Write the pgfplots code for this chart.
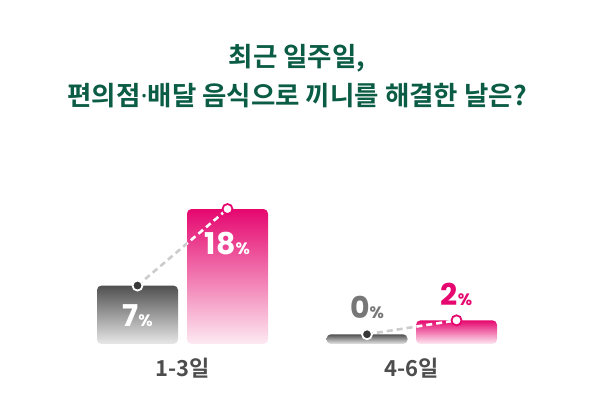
\documentclass[border=0pt]{standalone}
\usepackage{fontspec}
\setmainfont{Noto Sans CJK KR}[BoldFont={* Bold}]
\newfontfamily\latinfont{Noto Sans}
\newfontfamily\numfont{Poppins}
\usepackage{pgfplots}
\pgfplotsset{compat=1.18}
\definecolor{titlegreen}{HTML}{0B5C45}
\definecolor{pinkbar}{HTML}{E5076F}
\definecolor{pinklight}{HTML}{FDEAF2}
\definecolor{graybar}{HTML}{505050}
\definecolor{graylight}{HTML}{E8E8E8}
\definecolor{linegray}{HTML}{CCCCCC}
\definecolor{labelgray}{HTML}{4D4D4D}
\definecolor{zerogray}{HTML}{777777}

% 1 px of the reference = 1pt here; bars of 0 still get a small stub
\pgfplotsset{
  base/.style={
    scale only axis, height=160pt,
    ymin=-1.4, ymax=21.6,
    y coord trafo/.code={\pgfmathparse{##1+1.4}},
    y coord inv trafo/.code={\pgfmathparse{##1-1.4}},
  },
  link/.style={line width=2.6pt, dash pattern=on 6pt off 4pt},
  graybar/.style={draw=none, rounded corners=4.5pt, top color=graybar, bottom color=graylight},
  pinkbar/.style={draw=none, rounded corners=4.5pt, top color=pinkbar, bottom color=pinklight},
}

\begin{document}
\begin{tikzpicture}
\path[use as bounding box] (0,0) rectangle (594pt,420pt);

\node[font=\bfseries\fontsize{26.5}{39}\selectfont, text=titlegreen, align=center, inner sep=0pt]
  at (297pt,344pt) {최근 일주일,\\편의점{\latinfont\bfseries ·}배달 음식으로 끼니를 해결한 날은?};

% bars and grey links
\begin{axis}[base, at={(0pt,76pt)}, anchor=south west, width=594pt,
    xmin=0, xmax=594, hide axis, clip=false,
    ybar, bar width=81, bar shift=0pt]
  \addplot[sharp plot, link, draw=linegray] coordinates {(137.5,7) (227.5,18)};
  \addplot[sharp plot, link, draw=linegray] coordinates {(367,0) (456.5,2)};
  \addplot[graybar] coordinates {(137.5,7)};
  \addplot[graybar] coordinates {(367,0)};
  \addplot[pinkbar] coordinates {(227.5,18)};
  \addplot[pinkbar] coordinates {(456.5,2)};
\end{axis}

% white part of the links, clipped to the pink bars
\begin{axis}[base, at={(187pt,76pt)}, anchor=south west, width=81pt,
    xmin=187, xmax=268, hide axis]
  \addplot[white, link, mark=none] coordinates {(137.5,7) (227.5,18)};
\end{axis}
\begin{axis}[base, at={(416pt,76pt)}, anchor=south west, width=81pt,
    xmin=416, xmax=497, hide axis]
  \addplot[white, link, mark=none] coordinates {(367,0) (456.5,2)};
\end{axis}

% markers, values and category names
\begin{axis}[base, at={(0pt,76pt)}, anchor=south west, width=594pt,
    xmin=0, xmax=594, clip=false,
    axis x line*=bottom, axis y line=none, axis line style={draw=none},
    major tick length=0pt, ytick=\empty,
    xtick={182.5,412}, xticklabels={1-3일,4-6일},
    xticklabel style={font=\bfseries\fontsize{22}{22}\selectfont, text=labelgray, yshift=-11pt},
    point meta=rawy,
    /pgf/number format/assume math mode=true,
    nodes near coords={\pgfmathprintnumber{\pgfplotspointmeta}{\fontsize{16.5}{16.5}\selectfont\%}},
    nodes near coords style={font=\numfont\bfseries\fontsize{30}{30}\selectfont, anchor=center, inner sep=0pt},
  ]
  \addplot[only marks, mark=*, mark size=5pt,
      mark options={fill=black!78, draw=white, line width=1.8pt},
      coordinate style/.condition={\coordindex==0}{text=white, yshift=-30pt},
      coordinate style/.condition={\coordindex==1}{text=zerogray, yshift=27pt, font=\numfont\bfseries\fontsize{27}{27}\selectfont},
    ] coordinates {(137.5,7) (367,0)};
  \addplot[only marks, mark=*, mark size=5pt,
      mark options={fill=white, draw=pinkbar, line width=1.8pt},
      coordinate style/.condition={\coordindex==0}{text=white, yshift=-34pt},
      coordinate style/.condition={\coordindex==1}{text=pinkbar, yshift=26pt, font=\numfont\bfseries\fontsize{27}{27}\selectfont},
    ] coordinates {(227.5,18) (456.5,2)};
\end{axis}
\end{tikzpicture}
\end{document}
